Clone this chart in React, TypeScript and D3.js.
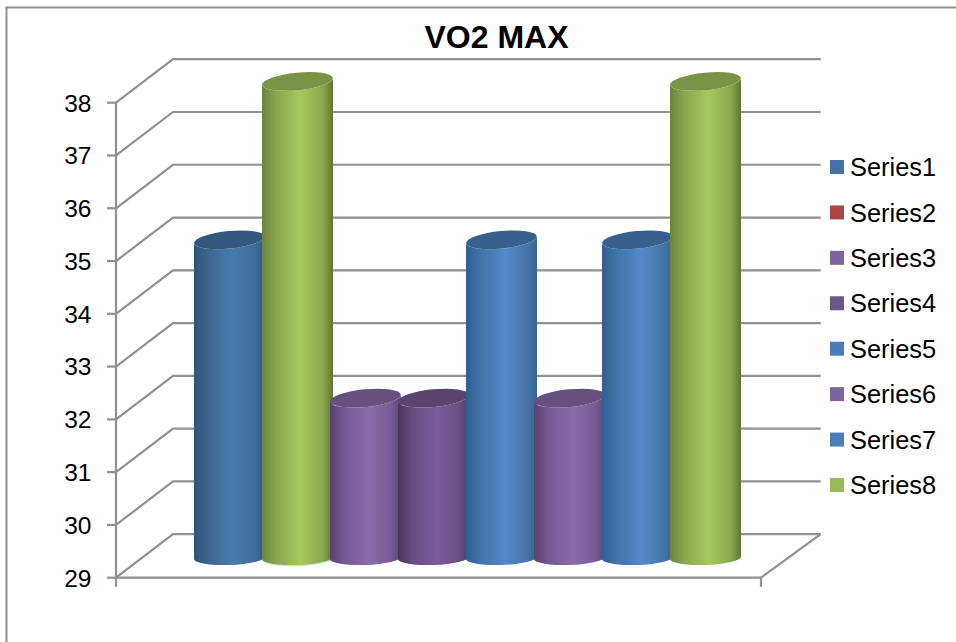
import React from "react";
import * as d3 from "d3";

const WIDTH = 956;
const HEIGHT = 642;

const chartTitle = "VO2 MAX";
const tickValues = [29, 30, 31, 32, 33, 34, 35, 36, 37, 38];

// One cylinder per slot, left to right.
const barValues = [35, 38, 32, 32, 35, 32, 35, 38];
const barTones = ["steel", "green", "purple", "plum", "blue", "purple", "blue", "green"];
const barHalo = [false, true, false, false, false, false, false, false];

const legendNames = ["Series1", "Series2", "Series3", "Series4", "Series5", "Series6", "Series7", "Series8"];
const legendColors = ["#4572a7", "#aa4643", "#8064a2", "#6d5489", "#4a7ebb", "#8064a2", "#4a7ebb", "#9bbb59"];

// Shading of each cylinder: side-left, mid-left, highlight, mid-right, side-right, lid.
const toneShades: Record<string, string[]> = {
  steel: ["#2e557c", "#3c668f", "#4a7bb0", "#3f6c9b", "#2f5a86", "#35587f"],
  blue: ["#2f5f90", "#4273a8", "#5589ca", "#4575aa", "#37658f", "#37608c"],
  purple: ["#584370", "#745892", "#8a6bad", "#775b96", "#5c4675", "#66507f"],
  plum: ["#46365a", "#654c80", "#7a5c9a", "#695084", "#54406a", "#5b4570"],
  green: ["#6c8440", "#8ba74f", "#a6c85f", "#8ca84f", "#5f7535", "#7a9447"],
};

const GRID = "#919191";
const depthX = 57;
const depthY = 43.5;
const barWidth = 71;
const lidRy = 8.8;
const lidTilt = -5.5;
const baseRy = 7;
const baseTilt = -2;

const y = d3.scaleLinear().domain([29, 38]).range([577.7, 102.7]);
const x = d3.scaleLinear().domain([0, 8]).range([194, 738]);
const legendY = d3.scalePoint<string>().domain(legendNames).range([167, 485]);

const FONT = "'Liberation Sans', Arial, sans-serif";

// Centre height of a bar's end cap, half way back through the plot's depth.
const capY = (v: number) => y(v) - depthY / 2 + 0.5;

function bodyPath(i: number, v: number) {
  const rx = barWidth / 2;
  const cx = x(i) + rx;
  const topY = capY(v);
  const baseY = capY(29) + 1.5;
  const topDy = rx * Math.sin((lidTilt * Math.PI) / 180);
  const baseDy = rx * Math.sin((baseTilt * Math.PI) / 180);
  const left = cx - rx;
  const right = cx + rx;
  return [
    `M${left},${topY - topDy}`,
    `L${left},${baseY - baseDy}`,
    `A${rx},${baseRy} ${baseTilt} 0 0 ${right},${baseY + baseDy}`,
    `L${right},${topY + topDy}`,
    `A${rx},${lidRy} ${lidTilt} 0 1 ${left},${topY - topDy}`,
    "Z",
  ].join(" ");
}

export default function App() {
  const backLeft = 116 + depthX;
  const backRight = 820.7;
  const frontRight = 761;
  const floorY = y(29);

  return (
    <svg
      width={WIDTH}
      height={HEIGHT}
      viewBox={`0 0 ${WIDTH} ${HEIGHT}`}
      style={{ position: "absolute", left: 0, top: 0, display: "block", background: "#fff" }}
    >
      <defs>
        {Object.entries(toneShades).map(([tone, c]) => (
          <linearGradient key={tone} id={`side-${tone}`} x1="0" x2="1" y1="0" y2="0">
            <stop offset="0" stopColor={c[0]} />
            <stop offset="0.2" stopColor={c[1]} />
            <stop offset="0.55" stopColor={c[2]} />
            <stop offset="0.85" stopColor={c[3]} />
            <stop offset="1" stopColor={c[4]} />
          </linearGradient>
        ))}
      </defs>

      <path d={`M6.5,${HEIGHT} V7.5 H${WIDTH}`} fill="none" stroke="#8f8f8f" strokeWidth={2} />

      <text
        x={496.5}
        y={48}
        textAnchor="middle"
        fontFamily={FONT}
        fontSize={32}
        fontWeight="bold"
        fill="#000"
      >
        {chartTitle}
      </text>

      {/* Back wall, side wall and floor */}
      <g fill="none" stroke={GRID} strokeWidth={2.2}>
        {tickValues.map((t) => (
          <path
            key={t}
            d={`M${116},${y(t)} L${backLeft},${y(t) - depthY} H${backRight}`}
          />
        ))}
        <path d={`M${backRight},${floorY - depthY} L${frontRight},${floorY}`} />
        <path d={`M116,${floorY} H${frontRight} V${floorY + 9}`} />
        <path d={`M116,${y(38)} V${floorY + 9}`} />
        {tickValues.map((t) => (
          <path key={t} d={`M107,${y(t)} H116`} />
        ))}
      </g>

      {tickValues.map((t) => (
        <text
          key={t}
          x={91.5}
          y={y(t)}
          dy="0.36em"
          textAnchor="end"
          fontFamily={FONT}
          fontSize={24.5}
          fill="#000"
        >
          {t}
        </text>
      ))}

      {/* Cylinders, later ones overlapping the earlier ones */}
      {barValues.map((v, i) => {
        const tone = barTones[i];
        const rx = barWidth / 2;
        return (
          <g key={i}>
            {barHalo[i] && (
              <path d={bodyPath(i, v)} fill="#cfe0ea" transform="translate(0,1.2)" />
            )}
            <path d={bodyPath(i, v)} fill={`url(#side-${tone})`} />
            <ellipse
              cx={x(i) + rx}
              cy={capY(v)}
              rx={rx}
              ry={lidRy}
              fill={toneShades[tone][5]}
              transform={`rotate(${lidTilt} ${x(i) + rx} ${capY(v)})`}
            />
          </g>
        );
      })}

      {/* Legend */}
      {legendNames.map((name, i) => (
        <g key={name}>
          <rect x={830} y={legendY(name)! - 7} width={14} height={14} fill={legendColors[i]} />
          <text
            x={850}
            y={legendY(name)!}
            dy="0.36em"
            fontFamily={FONT}
            fontSize={25.4}
            fill="#000"
          >
            {name}
          </text>
        </g>
      ))}
    </svg>
  );
}
